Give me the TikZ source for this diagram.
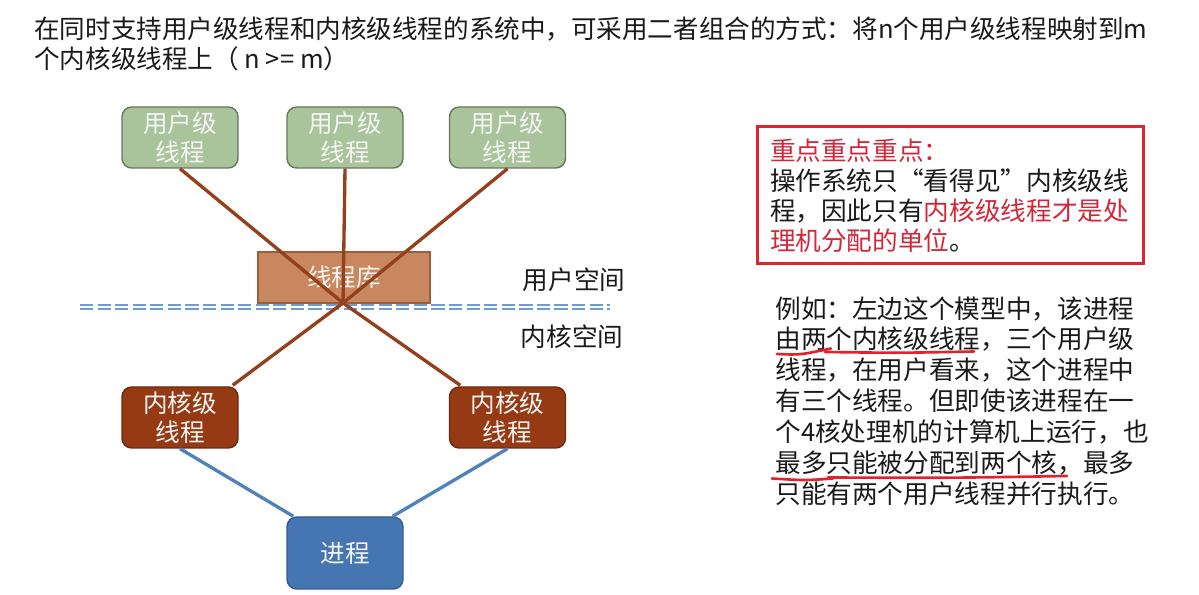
\documentclass[tikz,border=0pt]{standalone}
\usepackage{fontspec}
\setmainfont{Noto Sans CJK SC}
\usetikzlibrary{positioning,calc}
\definecolor{usrFill}{HTML}{A9C49B}
\definecolor{usrDraw}{HTML}{62785F}
\definecolor{libFill}{HTML}{C9875F}
\definecolor{libDraw}{HTML}{9C5E3A}
\definecolor{kernFill}{HTML}{953A12}
\definecolor{kernDraw}{HTML}{6A2A0E}
\definecolor{procFill}{HTML}{4676B2}
\definecolor{procDraw}{HTML}{325C91}
\definecolor{mapColor}{HTML}{94401C}
\definecolor{bindColor}{HTML}{4F81BD}
\definecolor{borderLine}{HTML}{6F9BD5}
\definecolor{boxText}{HTML}{F4F4F4}
\definecolor{bodyText}{HTML}{1A1A1A}
\definecolor{noteRed}{HTML}{E3222C}
\definecolor{keyRed}{HTML}{D0283A}
\tikzset{
  base/.style={draw, rounded corners=5.5pt, line width=0.8pt, align=center,
               text=boxText, font=\fontsize{14}{16.4}\selectfont, inner sep=1pt},
  userbox/.style={base, fill=usrFill, draw=usrDraw,
                  minimum width=2.32cm, minimum height=1.22cm},
  kernbox/.style={base, fill=kernFill, draw=kernDraw,
                  minimum width=2.32cm, minimum height=1.22cm},
  procbox/.style={base, fill=procFill, draw=procDraw,
                  minimum width=2.32cm, minimum height=1.44cm},
  libbox/.style={base, rounded corners=0pt, fill=libFill, draw=libDraw,
                 minimum width=3.44cm, minimum height=1.02cm},
  mapline/.style={draw=mapColor, line width=1.9pt},
  bindline/.style={draw=bindColor, line width=1.9pt},
  spacerule/.style={draw=borderLine, line width=1.2pt, dash pattern=on 7.5pt off 2.5pt},
  spaceLabel/.style={font=\fontsize{14.6}{17}\selectfont, text=bodyText},
  paraText/.style={font=\fontsize{14.6}{17.6}\selectfont, text=bodyText,
                   align=left, inner sep=0pt},
  notebox/.style={draw=noteRed, line width=1.7pt, align=left, text width=7.2cm,
                  minimum width=7.72cm, minimum height=2.74cm, inner xsep=0.26cm,
                  font=\fontsize{14.6}{17}\selectfont, text=bodyText},
  penmark/.style={draw=noteRed, line width=1.5pt, line cap=round}
}

\begin{document}
\begin{tikzpicture}
\useasboundingbox (0,0) rectangle (23.98,11.9);

% ------------------------------------------------------------
% heading
% ------------------------------------------------------------
\node[paraText, font=\fontsize{14.55}{17}\selectfont, anchor=north west] (title) at (0.68,11.56)
{在同时支持用户级线程和内核级线程的系统中，可采用二者组合的方式：将n个用户级线程映射到m\\
个内核级线程上（ n >= m）};

% ------------------------------------------------------------
% user level threads and thread library
% ------------------------------------------------------------
\node[userbox] (usr1) at (3.6,9.15)  {用户级\\线程};
\node[userbox] (usr2) at (6.9,9.15)  {用户级\\线程};
\node[userbox] (usr3) at (10.15,9.15) {用户级\\线程};

\node[libbox] (lib) at (6.88,6.35) {线程库};
\coordinate (hub) at (6.86,5.84);

% user / kernel border
\draw[spacerule] (1.6,5.80) -- (12.2,5.80);
\draw[spacerule] (1.6,5.72) -- (12.2,5.72);

\node[spaceLabel] (uspace) at (11.48,6.3)  {用户空间};
\node[spaceLabel] (kspace) at (11.44,5.16) {内核空间};

% ------------------------------------------------------------
% kernel level threads and process
% ------------------------------------------------------------
\node[kernbox] (kern1) at (3.6,3.55)  {内核级\\线程};
\node[kernbox] (kern2) at (10.15,3.55) {内核级\\线程};

\node[procbox] (proc) at (6.9,0.84) {进程};

% n:m mapping
\draw[mapline] (usr1.south) -- (hub) -- ($(kern2.north west)+(0.23,0.02)$);
\draw[mapline] (usr3.south) -- (hub) -- ($(kern1.north east)+(-0.12,0.02)$);
\draw[mapline] (usr2.south) -- (hub);

\draw[bindline] (kern1.south) -- ($(proc.north west)+(0.14,0)$);
\draw[bindline] (kern2.south) -- ($(proc.north east)+(-0.22,0)$);

% ------------------------------------------------------------
% notes on the right
% ------------------------------------------------------------
\node[notebox] (note) at (19.0,7.99)
{\textcolor{keyRed}{重点重点重点：}\\
操作系统只“看得见”内核级线\\
程，因此只有\textcolor{keyRed}{内核级线程才是处}\\
\textcolor{keyRed}{理机分配的单位}。};

\node[paraText, anchor=north west] (example) at (15.5,5.98)
{例如：左边这个模型中，该进程\\
由两个内核级线程，三个用户级\\
线程，在用户看来，这个进程中\\
有三个线程。但即使该进程在一\\
个4核处理机的计算机上运行，也\\
最多只能被分配到两个核，最多\\
只能有两个用户线程并行执行。};

% hand drawn underlines
\draw[penmark] (15.54,4.82) .. controls (16.0,4.80) .. (16.62,4.93);
\draw[penmark] (16.5,4.86) .. controls (18.0,4.84) .. (19.48,4.87);
\draw[penmark] (15.44,2.33) .. controls (16.1,2.29) .. (16.66,2.33);
\draw[penmark] (16.56,2.35) .. controls (19.0,2.34) .. (21.34,2.38);

\end{tikzpicture}
\end{document}
